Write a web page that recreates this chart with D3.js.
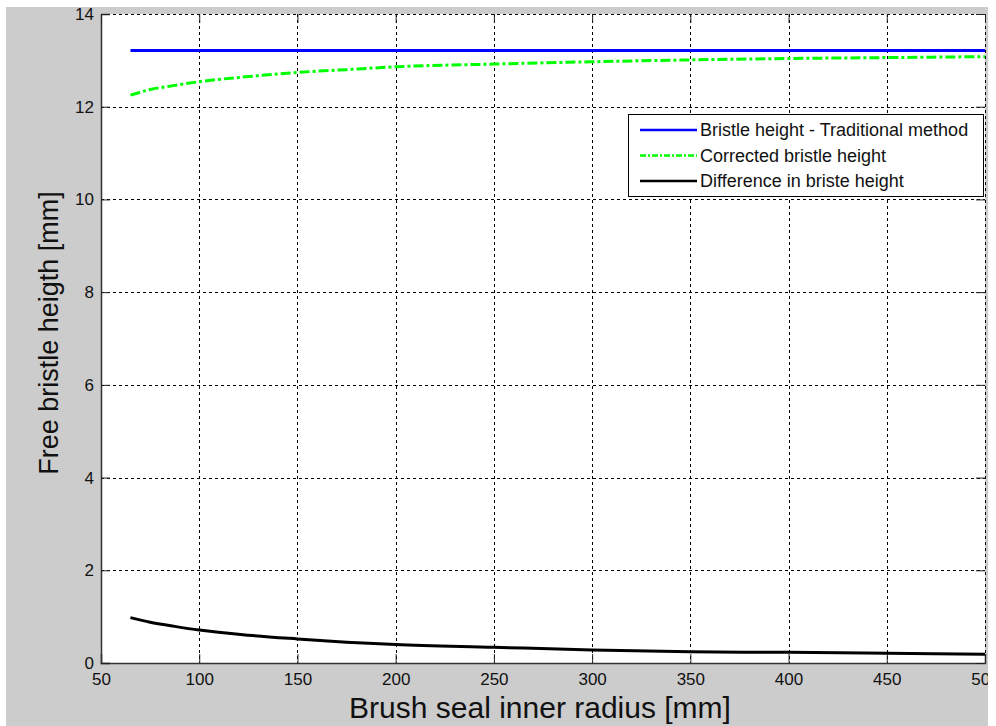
<!DOCTYPE html>
<html>
<head>
<meta charset="utf-8">
<script src="https://cdn.jsdelivr.net/npm/d3@7"></script>
<style>
  body { margin: 0; background: #fff; }
  svg { display: block; overflow: hidden; }
  text { font-family: "Liberation Sans", Arial, sans-serif; }
</style>
</head>
<body>
<svg id="chart" width="988" height="726"></svg>
<script>
// values
const radius      = [65, 75, 87.5, 100, 125, 150, 175, 200, 250, 300, 350, 400, 450, 500];
const traditional = [13.21, 13.21, 13.21, 13.21, 13.21, 13.21, 13.21, 13.21, 13.21, 13.21, 13.21, 13.21, 13.21, 13.21];
const corrected   = [12.25, 12.37, 12.46, 12.54, 12.65, 12.74, 12.80, 12.86, 12.92, 12.97, 13.01, 13.04, 13.06, 13.08];
const difference  = [0.98, 0.88, 0.79, 0.71, 0.60, 0.52, 0.45, 0.40, 0.34, 0.28, 0.24, 0.23, 0.21, 0.19];
const xTicks = [50, 100, 150, 200, 250, 300, 350, 400, 450, 500];
const yTicks = [0, 2, 4, 6, 8, 10, 12, 14];

const series = [
  { name: "Bristle height - Traditional method", values: traditional, color: "#0000ff", dash: null },
  { name: "Corrected bristle height", values: corrected, color: "#00ff00", dash: "10,3,3,3" },
  { name: "Difference in briste height", values: difference, color: "#000000", dash: null }
];

const svg = d3.select("#chart");
const plot = { left: 101, top: 14, right: 985, bottom: 663 };

svg.append("rect").attr("x", 6).attr("y", 7).attr("width", 990).attr("height", 719).attr("fill", "#cccccc");
svg.append("rect").attr("x", plot.left).attr("y", plot.top)
  .attr("width", plot.right - plot.left).attr("height", plot.bottom - plot.top).attr("fill", "#fff");

const x = d3.scaleLinear().domain([50, 500]).range([plot.left, plot.right]);
const y = d3.scaleLinear().domain([0, 14]).range([plot.bottom, plot.top]);

// grid
const grid = svg.append("g").attr("stroke", "#000").attr("stroke-width", 1).attr("stroke-dasharray", "3,3");
grid.selectAll(".gx").data(xTicks.slice(1, -1)).join("line")
  .attr("x1", d => Math.round(x(d)) + 0.5).attr("x2", d => Math.round(x(d)) + 0.5)
  .attr("y1", plot.top).attr("y2", plot.bottom);
grid.selectAll(".gy").data(yTicks.slice(1, -1)).join("line")
  .attr("y1", d => Math.round(y(d)) + 0.5).attr("y2", d => Math.round(y(d)) + 0.5)
  .attr("x1", plot.left).attr("x2", plot.right);
// top and right edges dashed too
grid.append("line").attr("x1", plot.left).attr("x2", plot.right).attr("y1", plot.top + 0.5).attr("y2", plot.top + 0.5);
grid.append("line").attr("x1", plot.right + 0.5).attr("x2", plot.right + 0.5).attr("y1", plot.top).attr("y2", plot.bottom);

// axes (MATLAB style, ticks inward)
const xAxis = svg.append("g").attr("transform", `translate(0,${plot.bottom})`)
  .call(d3.axisBottom(x).tickValues(xTicks).tickSize(-9).tickPadding(10));
const yAxis = svg.append("g").attr("transform", `translate(${plot.left},0)`)
  .call(d3.axisLeft(y).tickValues(yTicks).tickSize(-9).tickPadding(7));
svg.append("g").attr("transform", `translate(0,${plot.top})`)
  .call(d3.axisTop(x).tickValues(xTicks).tickSize(-9).tickFormat(""))
  .select(".domain").remove();
svg.append("g").attr("transform", `translate(${plot.right},0)`)
  .call(d3.axisRight(y).tickValues(yTicks).tickSize(-9).tickFormat(""))
  .select(".domain").remove();
[xAxis, yAxis].forEach(a => {
  a.select(".domain").attr("stroke", "#333").attr("stroke-width", 1.5);
  a.selectAll("text").attr("fill", "#111").style("font-size", "17px").style("font-family", "Liberation Sans, Arial, sans-serif");
});
svg.selectAll(".tick line").attr("stroke", "#222");

// lines
const line = vals => d3.line().x((d, i) => x(radius[i])).y(d => y(d)).curve(d3.curveMonotoneX)(vals);
series.forEach(s => {
  svg.append("path").attr("d", line(s.values)).attr("fill", "none")
    .attr("stroke", s.color).attr("stroke-width", 3)
    .attr("stroke-dasharray", s.dash);
});

// legend
const lg = svg.append("g");
lg.append("rect").attr("x", 628.5).attr("y", 114.5).attr("width", 355).attr("height", 82)
  .attr("fill", "#fff").attr("stroke", "#000").attr("stroke-width", 1);
series.forEach((s, i) => {
  const yy = 130 + i * 25.5;
  lg.append("line").attr("x1", 640).attr("x2", 697).attr("y1", yy).attr("y2", yy)
    .attr("stroke", s.color).attr("stroke-width", 2.5).attr("stroke-dasharray", s.dash ? "6,2,2,2" : null);
  lg.append("text").attr("x", 700).attr("y", yy + 6).text(s.name)
    .style("font-size", "18px").attr("fill", "#111");
});

// axis titles
svg.append("text").attr("x", 540).attr("y", 718)
  .attr("text-anchor", "middle").style("font-size", "30px").attr("fill", "#111")
  .text("Brush seal inner radius [mm]");
svg.append("text").attr("transform", `translate(58,333) rotate(-90)`)
  .attr("text-anchor", "middle").style("font-size", "27px").attr("fill", "#111")
  .text("Free bristle heigth [mm]");
</script>
</body>
</html>
